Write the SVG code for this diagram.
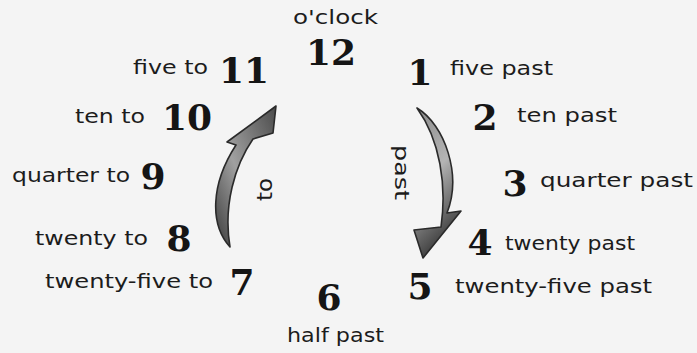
<svg xmlns="http://www.w3.org/2000/svg" width="697" height="353" viewBox="0 0 697 353">
<style>
.lbl{font-family:"DejaVu Sans","Liberation Sans",sans-serif;font-size:19px;fill:#1c1c1c}
.num{font-family:"DejaVu Serif","Liberation Serif",serif;font-size:36px;font-weight:bold;fill:#151515;text-anchor:middle}
.arr{stroke:#2a2a2a;stroke-width:1.6;stroke-linejoin:round}
</style>
<defs>
<linearGradient id="gTo" x1="0" y1="1" x2="1" y2="0">
<stop offset="0" stop-color="#3a3a3a"/>
<stop offset="0.45" stop-color="#a0a0a0"/>
<stop offset="1" stop-color="#4a4a4a"/>
</linearGradient>
<linearGradient id="gPast" x1="0" y1="0" x2="0.3" y2="1">
<stop offset="0" stop-color="#8a8a8a"/>
<stop offset="0.5" stop-color="#b4b4b4"/>
<stop offset="1" stop-color="#3c3c3c"/>
</linearGradient>
</defs>
<rect x="0" y="0" width="697" height="353" fill="#f4f4f4"/>
<g id="connectors">
<path id="arrow-to" class="arr" fill="url(#gTo)" d="M230,247 C210,225 210,185 236,145 L227,142 L276,106 L273,133 L253,139 C235,165 223,205 230,247 Z"/>
<path id="arrow-past" class="arr" fill="url(#gPast)" d="M417,108 C445,125 462,175 447,213 L461,211 L423,258 L414,230 L441,227 C447,185 440,140 417,108 Z"/>
<text class="lbl" transform="translate(395,145) rotate(90)" textLength="55" lengthAdjust="spacingAndGlyphs">past</text>
<text class="lbl" style="font-size:21px" transform="translate(272,201) rotate(-90)" textLength="23" lengthAdjust="spacingAndGlyphs">to</text>
</g>
<g id="n12"><text class="lbl" x="293" y="24" textLength="85" lengthAdjust="spacingAndGlyphs">o'clock</text><text class="num" x="331" y="65">12</text></g>
<g id="n11"><text class="lbl" x="133" y="74" textLength="75" lengthAdjust="spacingAndGlyphs">five to</text><text class="num" x="244" y="83">11</text></g>
<g id="n1"><text class="num" x="420" y="85">1</text><text class="lbl" x="450" y="75" textLength="103" lengthAdjust="spacingAndGlyphs">five past</text></g>
<g id="n10"><text class="lbl" x="75" y="123" textLength="70" lengthAdjust="spacingAndGlyphs">ten to</text><text class="num" x="187" y="130">10</text></g>
<g id="n2"><text class="num" x="485" y="130">2</text><text class="lbl" x="517" y="122" textLength="100" lengthAdjust="spacingAndGlyphs">ten past</text></g>
<g id="n9"><text class="lbl" x="12" y="182" textLength="118" lengthAdjust="spacingAndGlyphs">quarter to</text><text class="num" x="153" y="189">9</text></g>
<g id="n3"><text class="num" x="515" y="196">3</text><text class="lbl" x="540" y="187" textLength="153" lengthAdjust="spacingAndGlyphs">quarter past</text></g>
<g id="n8"><text class="lbl" x="35" y="245" textLength="113" lengthAdjust="spacingAndGlyphs">twenty to</text><text class="num" x="179" y="251">8</text></g>
<g id="n4"><text class="num" x="480" y="255">4</text><text class="lbl" x="505" y="250" textLength="130" lengthAdjust="spacingAndGlyphs">twenty past</text></g>
<g id="n7"><text class="lbl" x="45" y="288" textLength="168" lengthAdjust="spacingAndGlyphs">twenty-five to</text><text class="num" x="242" y="295">7</text></g>
<g id="n5"><text class="num" x="420" y="299">5</text><text class="lbl" x="455" y="293" textLength="197" lengthAdjust="spacingAndGlyphs">twenty-five past</text></g>
<g id="n6"><text class="num" x="329" y="310">6</text><text class="lbl" x="287" y="342" textLength="97" lengthAdjust="spacingAndGlyphs">half past</text></g>
</svg>
